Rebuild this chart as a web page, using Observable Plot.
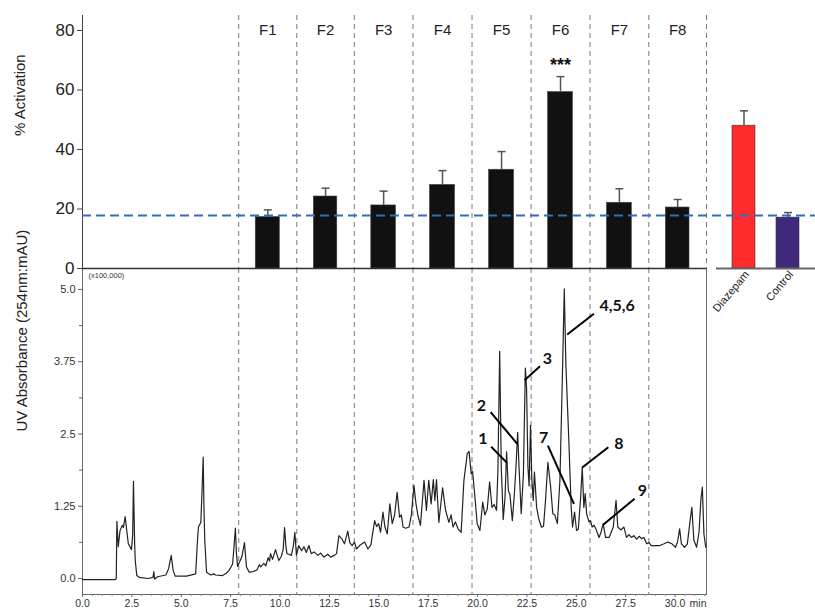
<!DOCTYPE html>
<html><head><meta charset="utf-8">
<script src="https://cdn.jsdelivr.net/npm/d3@7"></script>
<script src="https://cdn.jsdelivr.net/npm/@observablehq/plot@0.6"></script>
<style>
body{margin:0;background:#fff;}
#chart{position:relative;width:815px;height:608px;overflow:hidden;background:#fff;}
#chart svg{position:absolute;left:0;top:0;}
</style></head><body><div id="chart"></div>
<script>
// ---- Data ----
const fractions = ["F1","F2","F3","F4","F5","F6","F7","F8"];
const fractionBounds = [7.91, 10.85, 13.76, 16.73, 19.72, 22.71, 25.69, 28.67, 31.59]; // min
const activation = [17.3, 24.2, 21.2, 28.1, 33.2, 59.3, 22.1, 20.5];
const activationErr = [2.4, 2.8, 4.8, 4.8, 6.1, 5.2, 4.7, 2.7];
const significance = ["", "", "", "", "", "***", "", ""];
const controls = ["Diazepam", "Control"];
const controlValues = [48.0, 17.1];
const controlErr = [5.0, 1.7];
const controlColors = ["#fe2c2c", "#40297c"];
const threshold = 17.8;
const activationTicks = [0, 20, 40, 60, 80];

const timeTicks = [0, 2.5, 5, 7.5, 10, 12.5, 15, 17.5, 20, 22.5, 25, 27.5, 30];
const timeMinorTicks = [0.5,1,1.5,2,3,3.5,4,4.5,5.5,6,6.5,7,8,8.5,9,9.5,10.5,11,11.5,12,13,13.5,14,14.5,15.5,16,16.5,17,18,18.5,19,19.5,20.5,21,21.5,22,23,23.5,24,24.5,25.5,26,26.5,27,28,28.5,29,29.5,30.5,31,31.5];
const absTicks = [0, 1.25, 2.5, 3.75, 5];
const absMinorTicks = [0.625, 1.875, 3.125, 4.375];

const chromTime = [0.00,1.66,1.71,1.74,1.81,1.90,2.02,2.07,2.16,2.25,2.32,2.48,2.54,2.58,2.64,2.67,2.75,2.87,3.32,3.57,3.61,3.65,3.80,4.22,4.36,4.49,4.59,4.69,5.27,5.73,5.81,5.87,5.99,6.05,6.11,6.15,6.19,6.28,6.50,6.64,6.74,7.09,7.28,7.42,7.60,7.67,7.74,7.79,7.85,7.97,8.07,8.20,8.30,8.44,8.64,8.78,8.84,8.95,9.02,9.18,9.28,9.40,9.47,9.52,9.62,9.77,9.86,9.94,10.06,10.16,10.23,10.30,10.35,10.45,10.57,10.67,10.75,10.83,10.95,11.09,11.21,11.33,11.46,11.58,11.72,11.92,12.06,12.22,12.42,12.56,12.75,12.86,12.98,13.14,13.26,13.43,13.53,13.65,13.77,13.87,14.06,14.28,14.45,14.60,14.79,14.89,14.99,15.09,15.21,15.31,15.43,15.56,15.68,15.80,15.93,16.05,16.14,16.23,16.36,16.53,16.65,16.78,16.88,16.98,17.11,17.29,17.41,17.53,17.65,17.76,17.84,17.92,18.04,18.23,18.38,18.55,18.66,18.76,18.88,19.01,19.17,19.31,19.48,19.57,19.68,19.75,19.85,19.98,20.12,20.26,20.37,20.49,20.61,20.73,20.84,20.96,21.03,21.12,21.20,21.30,21.39,21.47,21.56,21.64,21.76,21.86,21.94,22.03,22.10,22.21,22.32,22.42,22.48,22.55,22.61,22.68,22.75,22.82,22.88,22.99,23.10,23.23,23.34,23.44,23.56,23.70,23.81,23.91,24.04,24.17,24.29,24.39,24.47,24.62,24.74,24.81,24.91,25.01,25.10,25.22,25.30,25.38,25.45,25.52,25.64,25.72,25.80,25.90,26.00,26.15,26.25,26.36,26.48,26.66,26.87,27.01,27.10,27.25,27.41,27.54,27.66,27.79,27.91,28.05,28.18,28.30,28.42,28.56,28.68,28.79,29.01,29.23,29.44,29.63,29.84,30.02,30.13,30.23,30.32,30.48,30.62,30.76,30.85,30.95,31.09,31.21,31.31,31.38,31.46,31.55];
const chromAbs = [-0.02,-0.02,0.00,0.99,0.55,0.83,0.92,0.88,1.07,0.80,0.60,0.50,0.75,1.68,0.60,0.31,0.05,0.02,0.00,0.02,0.12,-0.01,0.03,0.06,0.17,0.40,0.14,0.04,0.04,0.08,0.60,0.89,0.97,1.50,2.10,1.20,0.66,0.11,0.06,0.08,0.06,0.05,0.09,0.14,0.25,0.55,0.87,0.45,0.21,0.30,0.38,0.62,0.20,0.11,0.12,0.14,0.15,0.24,0.20,0.26,0.22,0.36,0.30,0.43,0.33,0.50,0.40,0.31,0.38,0.50,0.88,0.55,0.43,0.42,0.40,0.55,0.80,0.40,0.57,0.48,0.55,0.45,0.57,0.43,0.46,0.40,0.44,0.37,0.42,0.37,0.40,0.43,0.74,0.68,0.60,0.82,0.62,0.57,0.63,0.51,0.58,0.63,0.51,0.58,1.00,0.90,0.95,0.80,1.15,0.89,0.77,1.29,0.95,1.10,1.49,1.06,1.10,0.89,0.87,0.89,1.10,1.61,1.30,1.09,0.92,1.70,1.18,1.70,1.29,1.71,1.35,1.71,0.97,1.57,1.18,0.97,1.10,0.89,0.98,0.86,0.80,1.70,2.16,2.20,1.81,1.85,1.47,0.95,0.83,1.32,1.10,1.20,1.67,1.23,1.28,1.18,1.87,3.93,1.93,1.02,1.40,2.19,1.52,1.45,1.00,1.45,1.90,2.53,1.93,1.12,1.80,3.64,3.30,1.93,1.60,2.65,1.70,1.35,1.84,1.23,1.03,0.89,0.90,1.35,2.01,1.58,1.12,1.10,0.95,1.70,3.43,5.01,3.71,2.39,1.23,0.89,1.15,0.83,0.85,1.41,1.93,1.23,1.47,1.12,0.98,1.00,0.89,0.92,0.85,0.71,0.80,0.95,0.71,0.71,0.89,1.35,0.89,0.84,0.89,0.71,0.76,0.71,0.74,0.68,0.73,0.69,0.71,0.60,0.62,0.57,0.57,0.57,0.60,0.63,0.60,0.54,0.64,0.86,0.60,0.54,0.60,1.00,1.23,0.66,0.54,0.80,1.38,1.58,0.77,0.54];

const annLabel = ["1", "2", "3", "4,5,6", "7", "8", "9"];
const annTextT = [20.27, 20.19, 23.53, 27.07, 23.35, 27.15, 28.34];
const annTextV = [2.42, 2.99, 3.80, 4.72, 2.44, 2.33, 1.52];
const annFromT = [20.69, 20.66, 23.16, 25.89, 23.56, 26.62, 27.95];
const annFromV = [2.28, 2.88, 3.67, 4.58, 2.30, 2.27, 1.38];
const annToT = [21.49, 22.01, 22.38, 24.54, 24.88, 25.30, 26.36];
const annToV = [2.00, 2.33, 3.43, 4.22, 1.29, 1.92, 0.93];

// ---- Tables ----
const fracData = fractions.map((f, i) => ({
  name: f, start: fractionBounds[i], end: fractionBounds[i + 1],
  mid: (fractionBounds[i] + fractionBounds[i + 1]) / 2,
  value: activation[i], top: activation[i] + activationErr[i], sig: significance[i]
}));
const ctrlData = controls.map((c, i) => ({name: c, value: controlValues[i], top: controlValues[i] + controlErr[i], color: controlColors[i]}));
const chrom = chromTime.map((t, i) => ({t, v: chromAbs[i]}));
const ann = annLabel.map((l, i) => ({label: l, tt: annTextT[i], tv: annTextV[i], ft: annFromT[i], fv: annFromV[i], pt: annToT[i], pv: annToV[i]}));

const capSymbol = {draw(ctx, size) { const w = Math.sqrt(size / Math.PI); ctx.moveTo(-w, 0); ctx.lineTo(w, 0); }};
const SANS = "Liberation Sans, Arial, sans-serif";
const timeDomain = [0, 31.59];
const actDomain = [0, 85.04];

// ---- Right panel (Diazepam / Control) ----
const p3 = Plot.plot({
  width: 815, height: 330, marginLeft: 716, marginRight: 0, marginTop: 15, marginBottom: 62,
  style: {background: "transparent", fontFamily: SANS, fontSize: "10.5px", color: "#222"},
  x: {domain: controls, paddingInner: 0.467, paddingOuter: 0.356, axis: null},
  y: {domain: actDomain, axis: null},
  marks: [
    Plot.barY(ctrlData, {x: "name", y: "value", fill: "color", stroke: "#333", strokeWidth: 0.6}),
    Plot.ruleX(ctrlData, {x: "name", y1: "value", y2: "top", stroke: "#555", strokeWidth: 1.5}),
    Plot.dot(ctrlData, {x: "name", y: "top", symbol: capSymbol, r: 4, stroke: "#555", strokeWidth: 1.5, fill: "none"}),
    Plot.ruleY([0], {stroke: "#666", strokeWidth: 2}),
    Plot.axisX({tickRotate: -50, tickSize: 0, tickPadding: 4, fontSize: 11, label: null, dx: 3})
  ]
});

// ---- Chromatogram ----
const p2 = Plot.plot({
  width: 815, height: 608, marginLeft: 82, marginRight: 109, marginTop: 268, marginBottom: 14,
  style: {background: "transparent", fontFamily: SANS, fontSize: "10.5px", color: "#333"},
  x: {domain: timeDomain, axis: null},
  y: {domain: [-0.277, 5.363], axis: null},
  marks: [
    Plot.ruleX(fractionBounds, {stroke: "#777", strokeDasharray: "5,4", strokeWidth: 1}),
    Plot.frame({stroke: "#666", strokeWidth: 1}),
    Plot.line(chrom, {x: "t", y: "v", stroke: "#222", strokeWidth: 1.2}),
    Plot.link(ann, {x1: "ft", y1: "fv", x2: "pt", y2: "pv", stroke: "#000", strokeWidth: 2}),
    Plot.text(ann, {x: "tt", y: "tv", text: "label", fontFamily: "Lato, Open Sans, sans-serif", fontWeight: "bold", fontSize: 16, fill: "#111"}),
    Plot.axisY(absTicks, {tickSize: 4, tickPadding: 3, fontSize: 11, label: null, stroke: "#666",
      tickFormat: d => Number.isInteger(d * 10) ? d.toFixed(1) : d.toFixed(2)}),
    Plot.axisY(absMinorTicks, {tickSize: 3, label: null, stroke: "#666", tickFormat: () => ""}),
    Plot.axisX(timeTicks, {tickSize: 3, tickPadding: 2, fontSize: 10.5, label: null, stroke: "#666", tickFormat: d => d.toFixed(1)}),
    Plot.axisX(timeMinorTicks, {tickSize: 2, label: null, stroke: "#888", tickFormat: () => ""}),
    Plot.text(["min"], {frameAnchor: "bottom-right", dx: 0, dy: 5, lineAnchor: "top", fontSize: 10.5}),
    Plot.text(["(x100,000)"], {frameAnchor: "top-left", dx: 6, dy: 4, lineAnchor: "top", textAnchor: "start", fontSize: 7.5}),
    Plot.text(["UV Absorbance (254nm:mAU)"], {frameAnchor: "left", rotate: -90, dx: -60, fontSize: 15, fill: "#222"})
  ]
});

// ---- Activation bars ----
const p1 = Plot.plot({
  width: 815, height: 290, marginLeft: 82, marginRight: 109, marginTop: 15, marginBottom: 22,
  style: {background: "transparent", fontFamily: SANS, fontSize: "17px", color: "#222"},
  x: {domain: timeDomain, axis: null},
  y: {domain: actDomain, axis: null},
  marks: [
    Plot.ruleX(fractionBounds, {stroke: "#777", strokeDasharray: "5,4", strokeWidth: 1}),
    Plot.rect(fracData, {x1: "start", x2: "end", y1: 0, y2: "value", insetLeft: 17, insetRight: 17, fill: "#111", stroke: "#444", strokeWidth: 0.6}),
    Plot.ruleX(fracData, {x: "mid", y1: "value", y2: "top", stroke: "#555", strokeWidth: 1.5}),
    Plot.dot(fracData, {x: "mid", y: "top", symbol: capSymbol, r: 4, stroke: "#555", strokeWidth: 1.5, fill: "none"}),
    Plot.text(fracData, {x: "mid", y: "top", text: "sig", dy: -11, fontSize: 18, fontWeight: "bold", fill: "#111"}),
    Plot.text(fracData, {x: "mid", text: "name", frameAnchor: "top", dy: 9, fontSize: 15, fill: "#222"}),
    Plot.ruleY([0], {stroke: "#333", strokeWidth: 1.5}),
    Plot.ruleX([0], {stroke: "#444", strokeWidth: 1}),
    Plot.axisY(activationTicks, {tickSize: 5, tickPadding: 3, fontSize: 17, label: null, stroke: "#444"}),
    Plot.text(["% Activation"], {frameAnchor: "left", rotate: -90, dx: -62, dy: -6, fontSize: 15, fill: "#222"}),
    Plot.ruleY([threshold], {stroke: "#2f6fc1", strokeWidth: 2, strokeDasharray: "9,5", insetRight: -109})
  ]
});

const chart = document.getElementById("chart");
chart.append(p3, p2, p1);
</script></body></html>
